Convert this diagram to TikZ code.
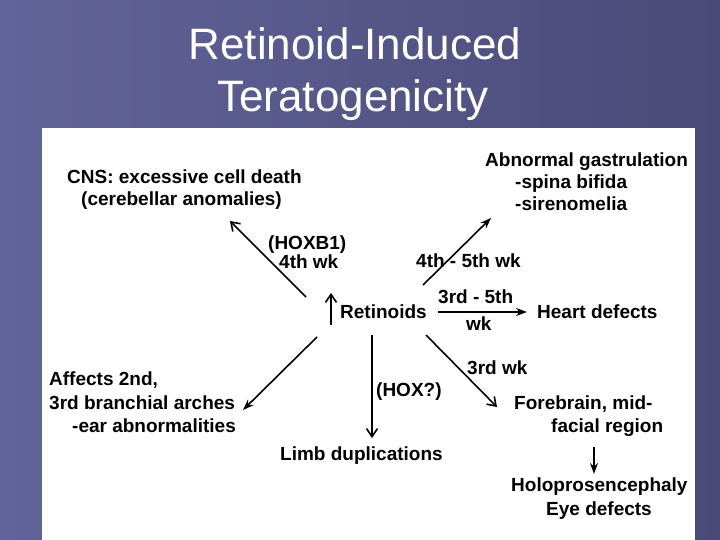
\documentclass[tikz,border=0pt]{standalone}
\usepackage{fontspec}
\setmainfont{Liberation Sans}
\usetikzlibrary{arrows.meta}
\definecolor{bgL}{HTML}{62639A}
\definecolor{bgR}{HTML}{4A4A78}
\tikzset{
  lbl/.style={anchor=base west, inner sep=0pt, font=\fontsize{19}{23}\selectfont\bfseries, text=black},
  ttl/.style={anchor=base, inner sep=0pt, font=\fontsize{44}{52}\selectfont, text=white},
  conn/.style={line width=1.6pt, draw=black},
  barb/.style={conn, -{Straight Barb[length=8pt,width=11pt,line width=1.6pt]}},
  stl/.style={conn, -{Stealth[length=11pt,width=8pt]}}
}
\begin{document}
\begin{tikzpicture}[x=1pt,y=-1pt]
\useasboundingbox (0,0) rectangle (720,540);
\shade[left color=bgL, right color=bgR] (0,0) rectangle (720,540);
\fill[white] (42,128) rectangle (695,540);
% title
\node[ttl] (t1) at (355,60) {Retinoid-Induced};
\node[ttl] (t2) at (353,112) {Teratogenicity};
% labels
\node[lbl] (cns1) at (67,184) {CNS: excessive cell death};
\node[lbl] (cns2) at (81,206) {(cerebellar anomalies)};
\node[lbl] (hoxb) at (268,249) {(HOXB1)};
\node[lbl] (w4) at (279,268) {4th wk};
\node[lbl] (ret) at (340,318) {Retinoids};
\node[lbl] (w45) at (416,267) {4th - 5th wk};
\node[lbl] (ab1) at (485,167) {Abnormal gastrulation};
\node[lbl] (ab2) at (515,189) {-spina bifida};
\node[lbl] (ab3) at (515,211) {-sirenomelia};
\node[lbl] (w35a) at (438,303) {3rd - 5th};
\node[lbl] (w35b) at (466,330) {wk};
\node[lbl] (heart) at (537,318) {Heart defects};
\node[lbl] (af1) at (49,385) {Affects 2nd,};
\node[lbl] (af2) at (49,409) {3rd branchial arches};
\node[lbl] (af3) at (72,432) {-ear abnormalities};
\node[lbl] (hox) at (376,396) {(HOX?)};
\node[lbl] (limb) at (280,460) {Limb duplications};
\node[lbl] (w3) at (467,374) {3rd wk};
\node[lbl] (fb1) at (514,409) {Forebrain, mid-};
\node[lbl] (fb2) at (551,432) {facial region};
\node[lbl] (hol) at (511,491) {Holoprosencephaly};
\node[lbl] (eye) at (546,515) {Eye defects};
% arrow end points
\coordinate (s1) at (306,297); \coordinate (e1) at (230,221);
\coordinate (s2) at (331,325); \coordinate (e2) at (331,293);
\coordinate (s3) at (423,285); \coordinate (e3) at (491,218);
\coordinate (s4) at (438,312); \coordinate (e4) at (527,312);
\coordinate (s5) at (317,337); \coordinate (e5) at (243,410);
\coordinate (s6) at (372,335); \coordinate (e6) at (372,438);
\coordinate (s7) at (426,335); \coordinate (e7) at (497,407);
\coordinate (s8) at (594,447); \coordinate (e8) at (594,474);
\draw[barb] (s1) -- (e1);
\draw[barb] (s2) -- (e2);
\draw[stl] (s3) -- (e3);
\draw[stl] (s4) -- (e4);
\draw[stl] (s5) -- (e5);
\draw[barb] (s6) -- (e6);
\draw[barb] (s7) -- (e7);
\draw[stl] (s8) -- (e8);
\end{tikzpicture}
\end{document}
